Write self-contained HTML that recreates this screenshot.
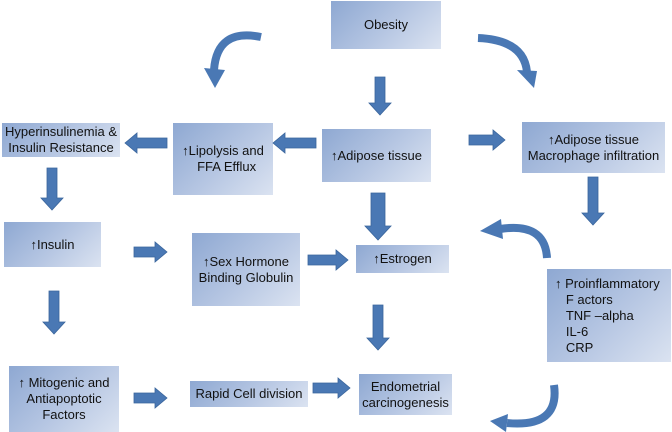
<!DOCTYPE html>
<html><head><style>
html,body{margin:0;padding:0;background:#fff;}
#c{position:relative;width:672px;height:432px;overflow:hidden;font-family:"Liberation Sans",sans-serif;color:#111;}
.b{position:absolute;background:linear-gradient(135deg,#8ea8d2 0%,#b7c7e3 55%,#dbe3f1 100%);display:flex;align-items:center;justify-content:center;text-align:center;font-size:13px;line-height:16px;box-sizing:border-box;}
svg{position:absolute;left:0;top:0;}
</style></head><body><div id="c">
<div class="b" style="left:331px;top:1px;width:110px;height:48px;">Obesity</div>
<div class="b" style="left:2px;top:123px;width:118px;height:34px;">Hyperinsulinemia &amp;<br>Insulin Resistance</div>
<div class="b" style="left:173px;top:123px;width:100px;height:72px;">↑Lipolysis and<br>&nbsp;&nbsp;FFA Efflux</div>
<div class="b" style="left:322px;top:129px;width:109px;height:53px;">↑Adipose tissue</div>
<div class="b" style="left:522px;top:122px;width:143px;height:51px;">↑Adipose tissue<br>Macrophage infiltration</div>
<div class="b" style="left:4px;top:222px;width:97px;height:45px;">↑Insulin</div>
<div class="b" style="left:192px;top:233px;width:108px;height:73px;">↑Sex Hormone<br>Binding Globulin</div>
<div class="b" style="left:356px;top:245px;width:93px;height:28px;">↑Estrogen</div>
<div class="b" style="left:547px;top:269px;width:124px;height:93px;justify-content:flex-start;text-align:left;padding-left:8px;">↑ Proinflammatory<br>&nbsp;&nbsp;&nbsp;F actors<br>&nbsp;&nbsp;&nbsp;TNF –alpha<br>&nbsp;&nbsp;&nbsp;IL-6<br>&nbsp;&nbsp;&nbsp;CRP</div>
<div class="b" style="left:9px;top:366px;width:110px;height:66px;">↑ Mitogenic and<br>Antiapoptotic<br>Factors</div>
<div class="b" style="left:190px;top:381px;width:118px;height:26px;">Rapid Cell division</div>
<div class="b" style="left:359px;top:374px;width:93px;height:41px;">Endometrial<br>carcinogenesis</div>
<svg width="672" height="432" viewBox="0 0 672 432">
<g fill="#4a78b4" stroke="#3a659c" stroke-width="0.8">
<polygon points="375,77 385,77 385,103 391,103 380,115 369,103 375,103"/>
<polygon points="47,168 57,168 57,198 63,198 52,210 41,198 47,198"/>
<polygon points="371,193 385,193 385,226 391,226 378,240 365,226 371,226"/>
<polygon points="588,177 598,177 598,213 604,213 593,225 582,213 588,213"/>
<polygon points="49,291 59,291 59,322 65,322 54,334 43,322 49,322"/>
<polygon points="373,305 383,305 383,338 389,338 378,350 367,338 373,338"/>
<polygon points="134,247 155,247 155,242 167,252 155,262 155,257 134,257"/>
<polygon points="308,255 336,255 336,250 348,260 336,270 336,265 308,265"/>
<polygon points="469,135 493,135 493,130 505,140 493,150 493,145 469,145"/>
<polygon points="134,393 155,393 155,388 167,398 155,408 155,403 134,403"/>
<polygon points="313,383 338,383 338,378 350,388 338,398 338,393 313,393"/>
<polygon points="316,138 285,138 285,133 273,143 285,153 285,148 316,148"/>
<polygon points="167,138 137,138 137,133 125,143 137,153 137,148 167,148"/>
</g>
<g fill="none" stroke="#4a78b4" stroke-width="8">
<path d="M261,37 Q217,28 214,70"/>
<path d="M478,38 Q524,40 527,72"/>
<path d="M547,258 Q545,222 500,229"/>
<path d="M554,385 Q560,428 507,423"/>
</g>
<g fill="#4a78b4">
<polygon points="204,68 225,70 215,88"/>
<polygon points="517,70 537,71 534,88"/>
<polygon points="501,219 503,239 480,231"/>
<polygon points="508,414 506,432 490,421"/>
</g>
</svg>
</div></body></html>
